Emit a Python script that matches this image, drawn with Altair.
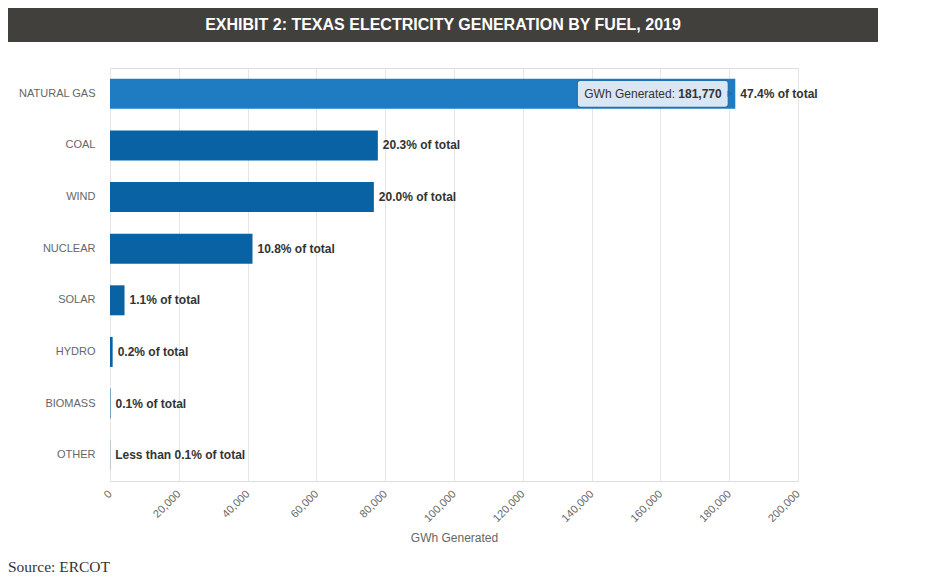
import altair as alt
import pandas as pd

fuels = ["NATURAL GAS", "COAL", "WIND", "NUCLEAR", "SOLAR", "HYDRO", "BIOMASS", "OTHER"]
gwh = [181770, 77860, 76700, 41420, 4220, 770, 150, 50]
share_labels = ["47.4% of total", "20.3% of total", "20.0% of total", "10.8% of total",
                "1.1% of total", "0.2% of total", "0.1% of total", "Less than 0.1% of total"]
x_ticks = [0, 20000, 40000, 60000, 80000, 100000, 120000, 140000, 160000, 180000, 200000]
title_text = "EXHIBIT 2: TEXAS ELECTRICITY GENERATION BY FUEL, 2019"
source_text = "Source: ERCOT"
highlight = "NATURAL GAS"

df = pd.DataFrame({"fuel": fuels, "gwh": gwh, "label": share_labels})

FONT = "Liberation Sans, Arial, sans-serif"

y_enc = alt.Y("fuel:N", sort=fuels,
              scale=alt.Scale(paddingInner=0, paddingOuter=0),
              axis=alt.Axis(title=None, labelFont=FONT, labelFontSize=11, labelColor="#666666",
                            labelPadding=15, ticks=False, domain=False, grid=False))
x_enc = alt.X("gwh:Q",
              scale=alt.Scale(domain=[0, 200000], nice=False),
              axis=alt.Axis(title="GWh Generated", values=x_ticks, format=",d",
                            labelAngle=-45, labelAlign="right", labelBaseline="middle",
                            labelFont=FONT, labelFontSize=11, labelColor="#666666",
                            labelPadding=11, ticks=False, domain=False,
                            gridColor="#e6e6e6", gridWidth=1,
                            titleFont=FONT, titleFontSize=12, titleColor="#666666",
                            titleFontWeight="normal", titlePadding=9))

base = alt.Chart(df)

bars = base.mark_bar(height=30).encode(
    x=x_enc,
    y=y_enc,
    color=alt.condition(alt.datum.fuel == highlight, alt.value("#1f7cc2"), alt.value("#0862a3")),
)

labels = base.mark_text(align="left", baseline="middle", dx=5, font=FONT, fontSize=12,
                        fontWeight="bold", color="#333333").encode(
    x="gwh:Q", y=alt.Y("fuel:N", sort=fuels), text="label:N")

hl = base.transform_filter(alt.datum.fuel == highlight)

tip_box = hl.mark_bar(height=27, xOffset=-158, x2Offset=-7, fill="#d9e6f3", stroke="#1f6fb3",
                      strokeWidth=1.2, cornerRadius=3, opacity=1).encode(
    x="gwh:Q", x2="gwh:Q", y=alt.Y("fuel:N", sort=fuels))

tip_arrow = hl.mark_point(shape="triangle-right", filled=True, size=40, xOffset=-5,
                          color="#1f6fb3", opacity=1).encode(
    x="gwh:Q", y=alt.Y("fuel:N", sort=fuels))

tip_text1 = hl.mark_text(align="left", baseline="middle", dx=-151, font=FONT, fontSize=12,
                         color="#333333").encode(
    x="gwh:Q", y=alt.Y("fuel:N", sort=fuels), text=alt.value("GWh Generated:"))

tip_text2 = hl.mark_text(align="left", baseline="middle", dx=-57, font=FONT, fontSize=12,
                         fontWeight="bold", color="#333333").encode(
    x="gwh:Q", y=alt.Y("fuel:N", sort=fuels), text=alt.Text("gwh:Q", format=",d"))

banner_df = pd.DataFrame({"t": [title_text]})
banner = alt.Chart(banner_df).mark_rect(color="#42403d").encode(
    x=alt.value(-102), x2=alt.value(768), y=alt.value(-60), y2=alt.value(-26))
banner_text = alt.Chart(banner_df).mark_text(
    font="Liberation Sans Narrow, Arial Narrow, Liberation Sans, sans-serif",
    fontSize=16, fontWeight="bold", color="#ffffff", align="center", baseline="middle").encode(
    x=alt.value(333), y=alt.value(-43), text="t:N")

source_df = pd.DataFrame({"t": [source_text]})
source = alt.Chart(source_df).mark_text(
    font="Liberation Serif, DejaVu Serif, serif", fontSize=15.5, color="#333333",
    align="left", baseline="alphabetic").encode(
    x=alt.value(-102), y=alt.value(504), text="t:N")

chart = alt.layer(banner, banner_text, bars, labels, tip_box, tip_arrow, tip_text1, tip_text2,
                  source).properties(
    width=688, height=413, padding=0
).configure_view(stroke=None).configure(background="#ffffff")

chart.save("out.html", embed_options={"renderer": "svg", "actions": False})
